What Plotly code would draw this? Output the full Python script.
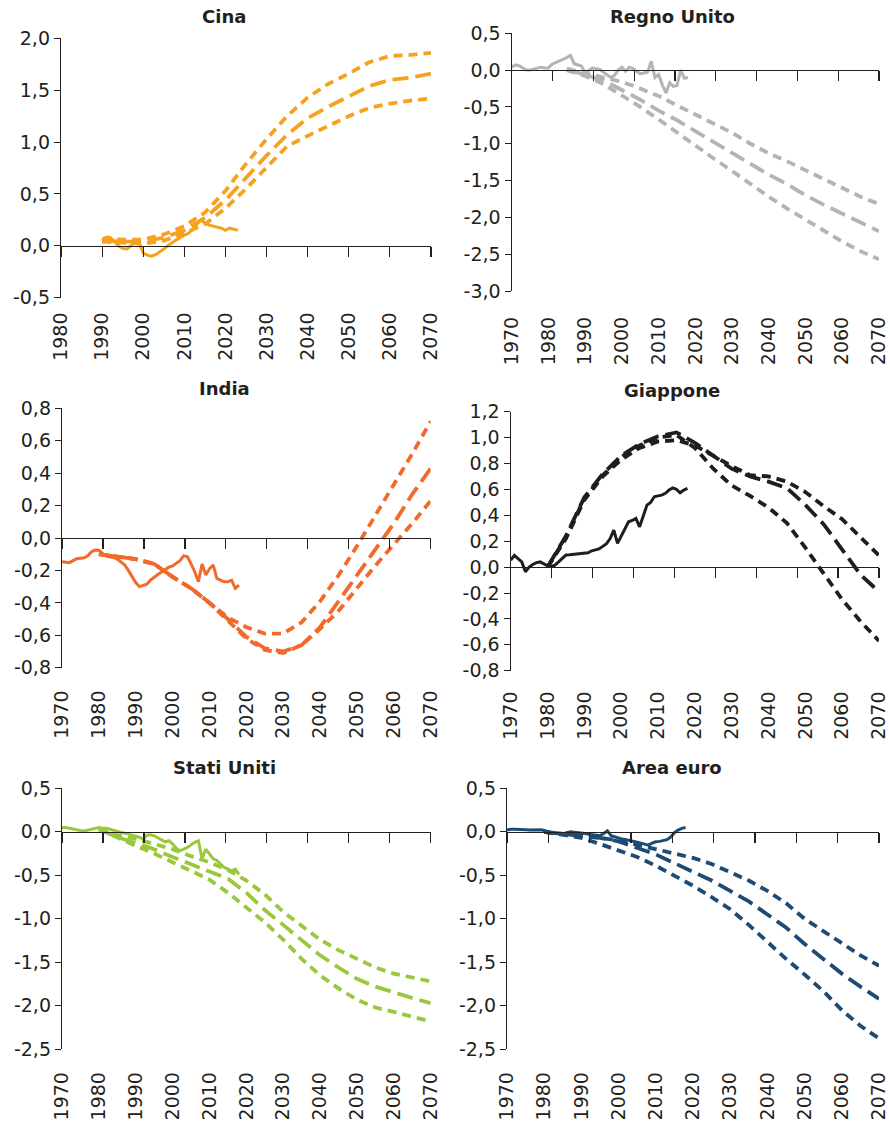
import plotly.graph_objects as go

# ---------------- DATA ----------------
# Cina
cina_hist_years = list(range(1990, 2024))
cina_hist = [0.05, 0.085, 0.08, 0.04, 0.0, -0.025, -0.03, 0.0, 0.045, 0.03,
             -0.07, -0.09, -0.1, -0.085, -0.06, -0.03, 0.0, 0.03, 0.055, 0.08,
             0.1, 0.12, 0.16, 0.2, 0.25, 0.22, 0.2, 0.19, 0.18, 0.17,
             0.15, 0.17, 0.16, 0.15]
cina_proj_years = list(range(1990, 2071, 5))
cina_upper = [0.07, 0.06, 0.06, 0.11, 0.19, 0.32, 0.53, 0.79, 1.03, 1.25, 1.43, 1.56, 1.66, 1.77, 1.83, 1.84, 1.86]
cina_central = [0.05, 0.04, 0.04, 0.08, 0.15, 0.27, 0.44, 0.66, 0.87, 1.07, 1.23, 1.34, 1.44, 1.54, 1.60, 1.62, 1.66]
cina_lower = [0.04, 0.03, 0.02, 0.05, 0.12, 0.21, 0.36, 0.55, 0.76, 0.96, 1.06, 1.16, 1.25, 1.33, 1.37, 1.40, 1.42]

# Regno Unito
uk_hist_years = list(range(1970, 2019))
uk_hist = [0.04, 0.07, 0.06, 0.03, 0.0, 0.0, 0.01, 0.02, 0.04, 0.03,
           0.03, 0.08, 0.1, 0.12, 0.145, 0.17, 0.2, 0.09, 0.07, 0.055,
           -0.035, 0.0, 0.03, 0.02, 0.01, -0.03, -0.07, -0.1, -0.07, 0.0,
           0.04, -0.015, 0.04, 0.02, -0.015, -0.05, -0.04, -0.03, 0.12, -0.1,
           -0.06, -0.2, -0.31, -0.17, -0.22, -0.21, 0.0, -0.11, -0.1]
uk_proj_years = list(range(1985, 2071, 5))
uk_upper = [0.02, -0.04, -0.09, -0.16, -0.25, -0.35, -0.48, -0.60, -0.73, -0.85, -1.0, -1.13, -1.24, -1.36, -1.48, -1.60, -1.72, -1.82]
uk_central = [0.01, -0.06, -0.14, -0.27, -0.40, -0.55, -0.68, -0.83, -0.98, -1.12, -1.28, -1.42, -1.55, -1.70, -1.83, -1.95, -2.08, -2.19]
uk_lower = [0.0, -0.08, -0.19, -0.34, -0.50, -0.67, -0.85, -1.02, -1.20, -1.37, -1.55, -1.72, -1.88, -2.03, -2.19, -2.33, -2.46, -2.57]

# India
india_hist_years = list(range(1970, 2019))
india_hist = [-0.146, -0.15, -0.152, -0.14, -0.128, -0.125, -0.122, -0.11, -0.085, -0.074,
              -0.076, -0.095, -0.112, -0.117, -0.12, -0.13, -0.148, -0.166, -0.2, -0.24,
              -0.275, -0.3, -0.29, -0.285, -0.26, -0.24, -0.225, -0.21, -0.195, -0.18,
              -0.172, -0.156, -0.14, -0.11, -0.115, -0.16, -0.208, -0.27, -0.16, -0.228,
              -0.19, -0.166, -0.249, -0.26, -0.27, -0.27, -0.26, -0.31, -0.29]
india_proj_years = list(range(1980, 2071, 5))
india_upper = [-0.1, -0.115, -0.13, -0.16, -0.24, -0.31, -0.4, -0.49, -0.55, -0.59, -0.59, -0.52, -0.39, -0.23, -0.05, 0.14, 0.32, 0.52, 0.72]
india_central = [-0.1, -0.115, -0.13, -0.16, -0.24, -0.31, -0.4, -0.5, -0.61, -0.68, -0.70, -0.66, -0.55, -0.39, -0.23, -0.08, 0.09, 0.27, 0.43]
india_lower = [-0.1, -0.115, -0.13, -0.16, -0.24, -0.31, -0.4, -0.51, -0.62, -0.69, -0.71, -0.66, -0.56, -0.45, -0.31, -0.17, -0.04, 0.09, 0.23]

# Giappone
jp_hist_years = list(range(1970, 2019))
jp_hist = [0.055, 0.09, 0.065, 0.04, -0.036, 0.0, 0.02, 0.035, 0.04, 0.025,
           0.01, 0.003, 0.015, 0.04, 0.07, 0.093, 0.095, 0.097, 0.1, 0.102,
           0.104, 0.11, 0.126, 0.133, 0.141, 0.16, 0.18, 0.22, 0.286, 0.183,
           0.24, 0.29, 0.35, 0.36, 0.376, 0.311, 0.4, 0.479, 0.5, 0.543,
           0.55, 0.556, 0.57, 0.595, 0.612, 0.6, 0.574, 0.595, 0.608]
jp_proj_years = list(range(1980, 2071, 5))
jp_upper = [0.0, 0.22, 0.52, 0.70, 0.83, 0.92, 0.97, 0.98, 0.94, 0.86, 0.78, 0.71, 0.70, 0.66, 0.58, 0.47, 0.37, 0.23, 0.09]
jp_central = [0.0, 0.24, 0.54, 0.72, 0.86, 0.95, 1.01, 1.04, 0.96, 0.86, 0.76, 0.70, 0.66, 0.61, 0.48, 0.33, 0.13, -0.06, -0.19]
jp_lower = [0.0, 0.23, 0.53, 0.71, 0.85, 0.94, 1.0, 1.02, 0.92, 0.76, 0.63, 0.55, 0.46, 0.34, 0.15, -0.05, -0.25, -0.42, -0.57]

# Stati Uniti
us_hist_years = list(range(1970, 2019))
us_hist = [0.05, 0.05, 0.04, 0.03, 0.02, 0.015, 0.01, 0.02, 0.03, 0.04,
           0.05, 0.04, 0.04, 0.03, 0.015, 0.0, -0.008, -0.015, -0.025, -0.035,
           -0.05, -0.065, -0.084, -0.04, -0.035, -0.046, -0.07, -0.1, -0.115, -0.103,
           -0.14, -0.19, -0.218, -0.2, -0.18, -0.15, -0.12, -0.103, -0.31, -0.2,
           -0.26, -0.31, -0.33, -0.37, -0.41, -0.43, -0.45, -0.43, -0.49]
us_proj_years = list(range(1980, 2071, 5))
us_upper = [0.03, -0.04, -0.08, -0.14, -0.20, -0.28, -0.35, -0.44, -0.56, -0.72, -0.92, -1.08, -1.24, -1.36, -1.46, -1.56, -1.63, -1.68, -1.72]
us_central = [0.03, -0.06, -0.13, -0.20, -0.29, -0.37, -0.45, -0.54, -0.70, -0.90, -1.07, -1.24, -1.42, -1.56, -1.69, -1.78, -1.85, -1.91, -1.97]
us_lower = [0.03, -0.07, -0.16, -0.25, -0.35, -0.45, -0.55, -0.70, -0.87, -1.04, -1.24, -1.46, -1.65, -1.80, -1.93, -2.02, -2.07, -2.13, -2.18]

# Area euro
ea_hist_years = list(range(1970, 2019))
ea_hist = [0.02, 0.03, 0.03, 0.03, 0.025, 0.025, 0.02, 0.023, 0.025, 0.023,
           0.015, 0.0, -0.01, -0.015, -0.02, -0.027, -0.01, 0.0, -0.005, -0.008,
           -0.01, -0.02, -0.027, -0.035, -0.04, -0.046, -0.02, 0.011, -0.046, -0.06,
           -0.07, -0.084, -0.09, -0.103, -0.11, -0.12, -0.13, -0.145, -0.153, -0.13,
           -0.115, -0.11, -0.103, -0.09, -0.06, -0.01, 0.02, 0.04, 0.05]
ea_proj_years = list(range(1980, 2071, 5))
ea_upper = [0.0, -0.02, -0.04, -0.07, -0.10, -0.15, -0.20, -0.25, -0.30, -0.37, -0.46, -0.56, -0.68, -0.82, -1.0, -1.14, -1.28, -1.42, -1.54]
ea_central = [0.0, -0.02, -0.04, -0.07, -0.11, -0.18, -0.26, -0.36, -0.46, -0.56, -0.68, -0.80, -0.95, -1.10, -1.29, -1.46, -1.63, -1.78, -1.92]
ea_lower = [0.0, -0.03, -0.07, -0.14, -0.22, -0.29, -0.39, -0.50, -0.62, -0.75, -0.89, -1.07, -1.27, -1.46, -1.64, -1.83, -2.05, -2.23, -2.375]

# Titles
titles = ["Cina", "Regno Unito", "India", "Giappone", "Stati Uniti", "Area euro"]

# Tick labels
x_labels_cina = list(range(1980, 2071, 10))
x_labels_other = list(range(1970, 2071, 10))
y_ticks_cina = [2.0, 1.5, 1.0, 0.5, 0.0, -0.5]
y_text_cina = ["2,0", "1,5", "1,0", "0,5", "0,0", "-0,5"]
y_ticks_uk = [0.5, 0.0, -0.5, -1.0, -1.5, -2.0, -2.5, -3.0]
y_text_uk = ["0,5", "0,0", "-0,5", "-1,0", "-1,5", "-2,0", "-2,5", "-3,0"]
y_ticks_india = [0.8, 0.6, 0.4, 0.2, 0.0, -0.2, -0.4, -0.6, -0.8]
y_text_india = ["0,8", "0,6", "0,4", "0,2", "0,0", "-0,2", "-0,4", "-0,6", "-0,8"]
y_ticks_jp = [1.2, 1.0, 0.8, 0.6, 0.4, 0.2, 0.0, -0.2, -0.4, -0.6, -0.8]
y_text_jp = ["1,2", "1,0", "0,8", "0,6", "0,4", "0,2", "0,0", "-0,2", "-0,4", "-0,6", "-0,8"]
y_ticks_25 = [0.5, 0.0, -0.5, -1.0, -1.5, -2.0, -2.5]
y_text_25 = ["0,5", "0,0", "-0,5", "-1,0", "-1,5", "-2,0", "-2,5"]

# Colours
colors = ["#F7A21E", "#B4B4B4", "#F2692A", "#1E1E1E", "#9AC83C", "#1D4B73"]

# ---------------- LAYOUT GEOMETRY (pixels) ----------------
W, H = 890, 1125
# (left, right, top, bottom) of each plot area in pixels
boxes = [(61, 431, 38.3, 297.7), (511.7, 879, 33.3, 291),
         (62, 430.7, 408.3, 667.7), (510.7, 879, 411.7, 670.7),
         (62, 430.7, 788.3, 1049.3), (507, 879, 788.3, 1049.3)]
title_pos = [(224, 16), (672, 17), (224, 389), (672, 390), (224, 767), (672, 767)]
label_standoff = [10, 21, 18, 16, 18, 18]

panels = [
    dict(hx=cina_hist_years, hy=cina_hist, px=cina_proj_years, up=cina_upper, ce=cina_central, lo=cina_lower,
         xr=[1980, 2070], yr=[-0.5, 2.0], xl=x_labels_cina, yt=y_ticks_cina, ytt=y_text_cina, nint=9),
    dict(hx=uk_hist_years, hy=uk_hist, px=uk_proj_years, up=uk_upper, ce=uk_central, lo=uk_lower,
         xr=[1970, 2070], yr=[-3.0, 0.5], xl=x_labels_other, yt=y_ticks_uk, ytt=y_text_uk, nint=9),
    dict(hx=india_hist_years, hy=india_hist, px=india_proj_years, up=india_upper, ce=india_central, lo=india_lower,
         xr=[1970, 2070], yr=[-0.8, 0.8], xl=x_labels_other, yt=y_ticks_india, ytt=y_text_india, nint=9),
    dict(hx=jp_hist_years, hy=jp_hist, px=jp_proj_years, up=jp_upper, ce=jp_central, lo=jp_lower,
         xr=[1970, 2070], yr=[-0.8, 1.2], xl=x_labels_other, yt=y_ticks_jp, ytt=y_text_jp, nint=9),
    dict(hx=us_hist_years, hy=us_hist, px=us_proj_years, up=us_upper, ce=us_central, lo=us_lower,
         xr=[1970, 2070], yr=[-2.5, 0.5], xl=x_labels_other, yt=y_ticks_25, ytt=y_text_25, nint=9),
    dict(hx=ea_hist_years, hy=ea_hist, px=ea_proj_years, up=ea_upper, ce=ea_central, lo=ea_lower,
         xr=[1970, 2070], yr=[-2.5, 0.5], xl=x_labels_other, yt=y_ticks_25, ytt=y_text_25, nint=9),
]

FONT = "DejaVu Sans"
TXT = "#231f20"
SHORT = "9px,6px"
LONG = "16px,7px"

fig = go.Figure()
layout = dict(width=W, height=H, margin=dict(l=0, r=0, t=0, b=0, autoexpand=False),
              paper_bgcolor="white", plot_bgcolor="white", showlegend=False,
              font=dict(family=FONT, color=TXT), annotations=[])

for i, p in enumerate(panels):
    n = i + 1
    xs = "" if n == 1 else str(n)
    xname, yname = "x" + xs, "y" + xs
    oname = "x" + str(n + 6)
    col = colors[i]
    l, r, t, b = boxes[i]
    xd = [l / W, r / W]
    yd = [1 - b / H, 1 - t / H]

    for vals, dash in ((p["up"], SHORT), (p["ce"], LONG), (p["lo"], SHORT)):
        fig.add_trace(go.Scatter(x=p["px"], y=vals, mode="lines", xaxis=xname, yaxis=yname,
                                 line=dict(color=col, width=3.8, dash=dash), hoverinfo="skip"))
    fig.add_trace(go.Scatter(x=p["hx"], y=p["hy"], mode="lines", xaxis=oname, yaxis=yname,
                             line=dict(color=col, width=3), hoverinfo="skip"))

    x0, x1 = p["xr"]
    y0, y1 = p["yr"]
    zero_pos = yd[0] + (0 - y0) / (y1 - y0) * (yd[1] - yd[0])
    tick_marks = [x0 + k * (x1 - x0) / p["nint"] for k in range(p["nint"] + 1)]

    layout["xaxis" + xs] = dict(domain=xd, range=p["xr"], anchor=yname, automargin=False,
                                tickvals=p["xl"], ticktext=[str(v) for v in p["xl"]],
                                tickangle=-90, ticks="", showline=False, showgrid=False,
                                zeroline=False, ticklabelstandoff=label_standoff[i],
                                tickfont=dict(family=FONT, size=19, color=TXT))
    layout["yaxis" + xs] = dict(domain=yd, range=p["yr"], anchor=xname, automargin=False,
                                tickvals=p["yt"], ticktext=p["ytt"], ticks="outside",
                                ticklen=6, tickwidth=1, tickcolor="#231f20",
                                showline=True, linecolor="#231f20", linewidth=1.2,
                                showgrid=False, zeroline=False,
                                tickfont=dict(family=FONT, size=19, color=TXT))
    layout["xaxis" + str(n + 6)] = dict(overlaying=xname, anchor="free", position=zero_pos,
                                        range=p["xr"], tickvals=tick_marks, ticks="outside",
                                        automargin=False,
                                        ticklen=10, tickwidth=1.2, tickcolor="#231f20",
                                        showticklabels=False, showline=True,
                                        linecolor="#231f20", linewidth=1.2,
                                        showgrid=False, zeroline=False)
    tx, ty = title_pos[i]
    layout["annotations"].append(dict(text="<b>" + titles[i] + "</b>", x=tx / W, y=1 - ty / H,
                                      xref="paper", yref="paper", xanchor="center", yanchor="middle",
                                      showarrow=False, font=dict(family=FONT, size=18, color=TXT)))

fig.update_layout(**layout)
fig.write_html("out.html", config={"displayModeBar": False, "staticPlot": True},
               post_script="document.body.style.margin='0px';document.body.style.overflow='hidden';")
